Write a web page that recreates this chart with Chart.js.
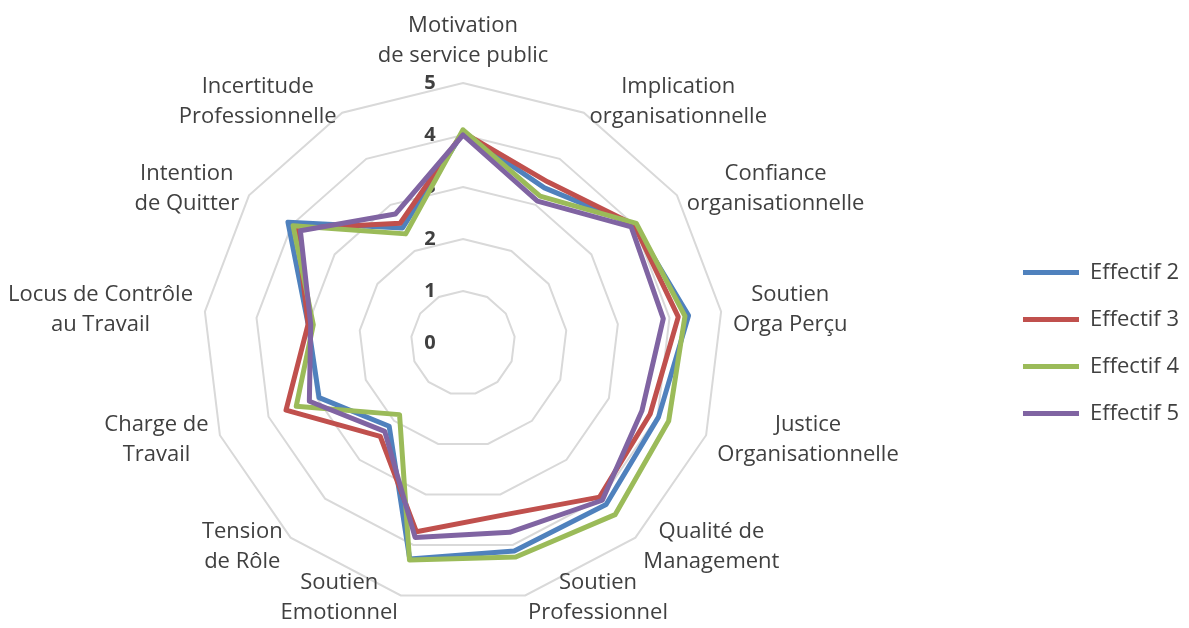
<!DOCTYPE html>
<html>
<head>
<meta charset="utf-8">
<script src="https://cdn.jsdelivr.net/npm/chart.js@4"></script>
<style>
  body { margin: 0; background: #fff; }
  #wrap { width: 1189px; height: 628px; position: relative; }
</style>
</head>
<body>
<div id="wrap"><canvas id="myChart"></canvas></div>
<script>
const categories = [
    ['Motivation', 'de service public'],
    ['Implication', 'organisationnelle'],
    ['Confiance', 'organisationnelle'],
    ['Soutien', 'Orga Perçu'],
    ['Justice', 'Organisationnelle'],
    ['Qualité de', 'Management'],
    ['Soutien', 'Professionnel'],
    ['Soutien', 'Emotionnel'],
    ['Tension', 'de Rôle'],
    ['Charge de', 'Travail'],
    ['Locus de Contrôle', 'au Travail'],
    ['Intention', 'de Quitter'],
    ['Incertitude', 'Professionnelle']
]
const effectif2 = [4.05, 3.37, 4.0, 4.37, 4.02, 4.15, 4.12, 4.28, 2.14, 2.96, 3.0, 4.09, 2.5]
const effectif3 = [4.05, 3.5, 4.0, 4.17, 3.85, 3.96, 3.4, 3.74, 2.4, 3.64, 3.0, 3.88, 2.6]
const effectif4 = [4.1, 3.19, 4.05, 4.3, 4.23, 4.41, 4.24, 4.3, 1.84, 3.43, 2.9, 3.97, 2.37]
const effectif5 = [4.0, 3.08, 3.93, 3.88, 3.68, 4.04, 3.75, 3.85, 2.27, 3.16, 2.95, 3.8, 2.8]
const tickValues = [0, 1, 2, 3, 4, 5]

const textColor = '#404040'
const plotCenterX = 463   // the radar is not centred in the chart area (legend on the right)
const labelGap = 12
const lineStep = 30

// tick labels sit left of the vertical axis, like in Excel
const tickLabels = {
    id: 'tickLabels',
    beforeDatasetsDraw(chart) {
        const r = chart.scales.r
        const ctx = chart.ctx
        ctx.save()
        ctx.font = 'bold 20px "Open Sans"'
        ctx.fillStyle = textColor
        ctx.textAlign = 'center'
        ctx.textBaseline = 'middle'
        tickValues.forEach(v => {
            ctx.fillText(String(v), r.xCenter - 33, r.yCenter - r.getDistanceFromCenterForValue(v))
        })
        ctx.restore()
    }
}

// category labels: lines centred on each other, box pushed out from the outer ring
const categoryLabels = {
    id: 'categoryLabels',
    beforeDatasetsDraw(chart) {
        const r = chart.scales.r
        const ctx = chart.ctx
        ctx.save()
        ctx.font = '22px "Open Sans"'
        ctx.fillStyle = textColor
        ctx.textAlign = 'center'
        ctx.textBaseline = 'middle'
        categories.forEach((lines, i) => {
            const p = r.getPointPosition(i, r.drawingArea + labelGap)
            const w = Math.max(...lines.map(t => ctx.measureText(t).width))
            const h = lines.length * lineStep
            const dx = p.x - r.xCenter
            let cx, cy
            if (Math.abs(dx) < 1) {
                cx = p.x
                cy = p.y - h / 2
            } else {
                cx = dx > 0 ? p.x + w / 2 : p.x - w / 2
                cy = p.y
            }
            cy = Math.min(cy, chart.height - h / 2)
            lines.forEach((t, j) => ctx.fillText(t, cx, cy - h / 2 + lineStep * (j + 0.5)))
        })
        ctx.restore()
    }
}

function serie(label, values, color, order) {
    return {
        label: label,
        data: values,
        borderColor: color,
        backgroundColor: color,
        borderWidth: 5,
        borderCapStyle: 'round',
        borderJoinStyle: 'round',
        pointRadius: 0,
        fill: false,
        order: order
    }
}

function drawChart() {
    const ctx = document.getElementById('myChart')

    const data = {
        labels: categories,
        datasets: [
            serie('Effectif 2', effectif2, '#4F81BD', 4),
            serie('Effectif 3', effectif3, '#C0504D', 3),
            serie('Effectif 4', effectif4, '#9BBB59', 2),
            serie('Effectif 5', effectif5, '#8064A2', 1)
        ]
    }

    const config = {
        type: 'radar',
        data: data,
        plugins: [tickLabels, categoryLabels],
        options: {
            responsive: true,
            maintainAspectRatio: false,
            animation: false,
            layout: {padding: {left: 0, right: 0, top: 83, bottom: 25}},
            plugins: {
                tooltip: {enabled: false},
                legend: {
                    position: 'right',
                    labels: {
                        usePointStyle: true,
                        pointStyle: 'line',
                        pointStyleWidth: 56,
                        padding: 25,
                        color: textColor,
                        font: {family: 'Open Sans', size: 22},
                        sort: (a, b) => a.datasetIndex - b.datasetIndex
                    }
                }
            },
            scales: {
                r: {
                    min: 0,
                    max: 5,
                    ticks: {stepSize: 1, display: false},
                    grid: {color: '#D9D9D9', lineWidth: 2},
                    angleLines: {display: false},
                    pointLabels: {display: false},
                    afterFit: (scale) => { scale.xCenter = plotCenterX }
                }
            }
        }
    }

    new Chart(ctx, config)
}

document.addEventListener('DOMContentLoaded', drawChart)
</script>
</body>
</html>
